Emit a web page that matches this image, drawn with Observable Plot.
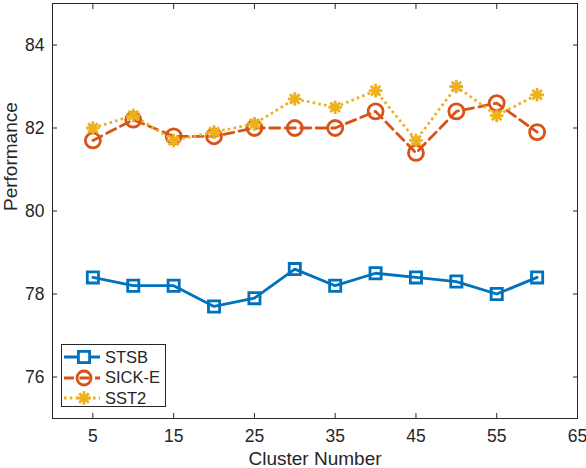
<!DOCTYPE html>
<html>
<head>
<meta charset="utf-8">
<script src="https://cdn.jsdelivr.net/npm/d3@7"></script>
<script src="https://cdn.jsdelivr.net/npm/@observablehq/plot@0.6"></script>
<style>
  body { margin: 0; background: white; }
  #wrap { position: relative; width: 586px; height: 468px; font-family: "Liberation Sans", Arial, sans-serif; }
  #legend { position: absolute; left: 61px; top: 344px; width: 105px; height: 63px; border: 1px solid #262626; background: white; box-sizing: border-box; padding-top: 2px; }
  .row { display: flex; align-items: center; height: 20.5px; color: #262626; font-size: 16.5px; }
  .row svg { display: block; margin-left: 2px; margin-right: 5px; }
</style>
</head>
<body>
<div id="wrap"></div>
<script>
const clusters = [5, 10, 15, 20, 25, 30, 35, 40, 45, 50, 55, 60];
const stsb  = [78.4, 78.2, 78.2, 77.7, 77.9, 78.6, 78.2, 78.5, 78.4, 78.3, 78.0, 78.4];
const sickE = [81.7, 82.2, 81.8, 81.8, 82.0, 82.0, 82.0, 82.4, 81.4, 82.4, 82.6, 81.9];
const sst2  = [82.0, 82.3, 81.7, 81.9, 82.1, 82.7, 82.5, 82.9, 81.7, 83.0, 82.3, 82.8];
const seriesNames = ["STSB", "SICK-E", "SST2"];
const seriesColors = ["#0072BD", "#D95319", "#EDB120"];
const xTicks = [5, 15, 25, 35, 45, 55, 65];
const yTicks = [76, 78, 80, 82, 84];

const asterisk = {
  draw(context, size) {
    const r = Math.sqrt(size / Math.PI);
    const d = r * Math.SQRT1_2;
    context.moveTo(-r, 0); context.lineTo(r, 0);
    context.moveTo(0, -r); context.lineTo(0, r);
    context.moveTo(-d, -d); context.lineTo(d, d);
    context.moveTo(-d, d); context.lineTo(d, -d);
  }
};

const toRows = (vals) => clusters.map((c, i) => ({x: c, y: vals[i]}));
const rowsS = toRows(stsb), rowsC = toRows(sickE), rowsT = toRows(sst2);
const sw = 2.8;
const dashC = "10,5.5";
const dotT = "2.6,3.2";

const chart = Plot.plot({
  width: 586, height: 468,
  marginLeft: 52, marginRight: 9, marginTop: 3, marginBottom: 50,
  x: {domain: [0, 65]},
  y: {domain: [75, 85]},
  style: {fontFamily: "Liberation Sans, Arial, sans-serif", color: "#262626", background: "white", overflow: "visible"},
  marks: [
    Plot.frame({stroke: "#262626", strokeWidth: 1}),
    Plot.axisX(xTicks, {anchor: "bottom", tickSize: 0, tickPadding: 11, fontSize: 17.5, label: null}),
    Plot.axisY(yTicks, {anchor: "left", tickSize: 0, tickPadding: 8, fontSize: 17.5, label: null}),
    Plot.axisX(xTicks, {anchor: "bottom", tickSize: -5, text: null, label: null}),
    Plot.axisX(xTicks, {anchor: "top", tickSize: -5, text: null, label: null}),
    Plot.axisY(yTicks, {anchor: "left", tickSize: -5, text: null, label: null}),
    Plot.axisY(yTicks, {anchor: "right", tickSize: -5, text: null, label: null}),
    Plot.text(["Cluster Number"], {frameAnchor: "bottom", dy: 40, fontSize: 19, fill: "#262626", lineAnchor: "middle"}),
    Plot.text(["Performance"], {frameAnchor: "left", dx: -42, rotate: -90, fontSize: 19, fill: "#262626", lineAnchor: "middle"}),
    Plot.line(rowsS, {x: "x", y: "y", stroke: seriesColors[0], strokeWidth: sw}),
    Plot.dot(rowsS, {x: "x", y: "y", symbol: "square", r: 6.3, stroke: seriesColors[0], fill: "none", strokeWidth: sw}),
    Plot.line(rowsC, {x: "x", y: "y", stroke: seriesColors[1], strokeWidth: sw, strokeDasharray: dashC}),
    Plot.dot(rowsC, {x: "x", y: "y", symbol: "circle", r: 7.5, stroke: seriesColors[1], fill: "none", strokeWidth: sw}),
    Plot.line(rowsT, {x: "x", y: "y", stroke: seriesColors[2], strokeWidth: sw, strokeDasharray: dotT, strokeLinecap: "butt"}),
    Plot.dot(rowsT, {x: "x", y: "y", symbol: asterisk, r: 6.8, stroke: seriesColors[2], fill: "none", strokeWidth: sw})
  ]
});
const wrap = document.getElementById("wrap");
wrap.appendChild(chart);

// Legend
const legend = document.createElement("div");
legend.id = "legend";
const dashes = [null, dashC, dotT];
const markers = ["square", "circle", "asterisk"];
seriesNames.forEach((name, i) => {
  const row = document.createElement("div");
  row.className = "row";
  const w = 36, h = 18, cx = w / 2 + 2, cy = h / 2;
  let mk = "";
  const c = seriesColors[i];
  if (markers[i] === "square") mk = `<rect x="${cx-5.6}" y="${cy-5.6}" width="11.2" height="11.2" fill="white" stroke="${c}" stroke-width="${sw}"/>`;
  else if (markers[i] === "circle") mk = `<circle cx="${cx}" cy="${cy}" r="7" fill="none" stroke="${c}" stroke-width="${sw}"/>`;
  else {
    const r = 6.8, d = r * Math.SQRT1_2;
    mk = `<path d="M${cx-r},${cy}H${cx+r}M${cx},${cy-r}V${cy+r}M${cx-d},${cy-d}L${cx+d},${cy+d}M${cx-d},${cy+d}L${cx+d},${cy-d}" stroke="${c}" stroke-width="${sw}" fill="none"/>`;
  }
  row.innerHTML = `<svg width="${w}" height="${h}"><line x1="0" x2="${w}" y1="${cy}" y2="${cy}" stroke="${c}" stroke-width="${sw}" ${dashes[i] ? `stroke-dasharray="${dashes[i]}"` : ""}/>${mk}</svg><span>${name}</span>`;
  legend.appendChild(row);
});
wrap.appendChild(legend);
</script>
</body>
</html>
